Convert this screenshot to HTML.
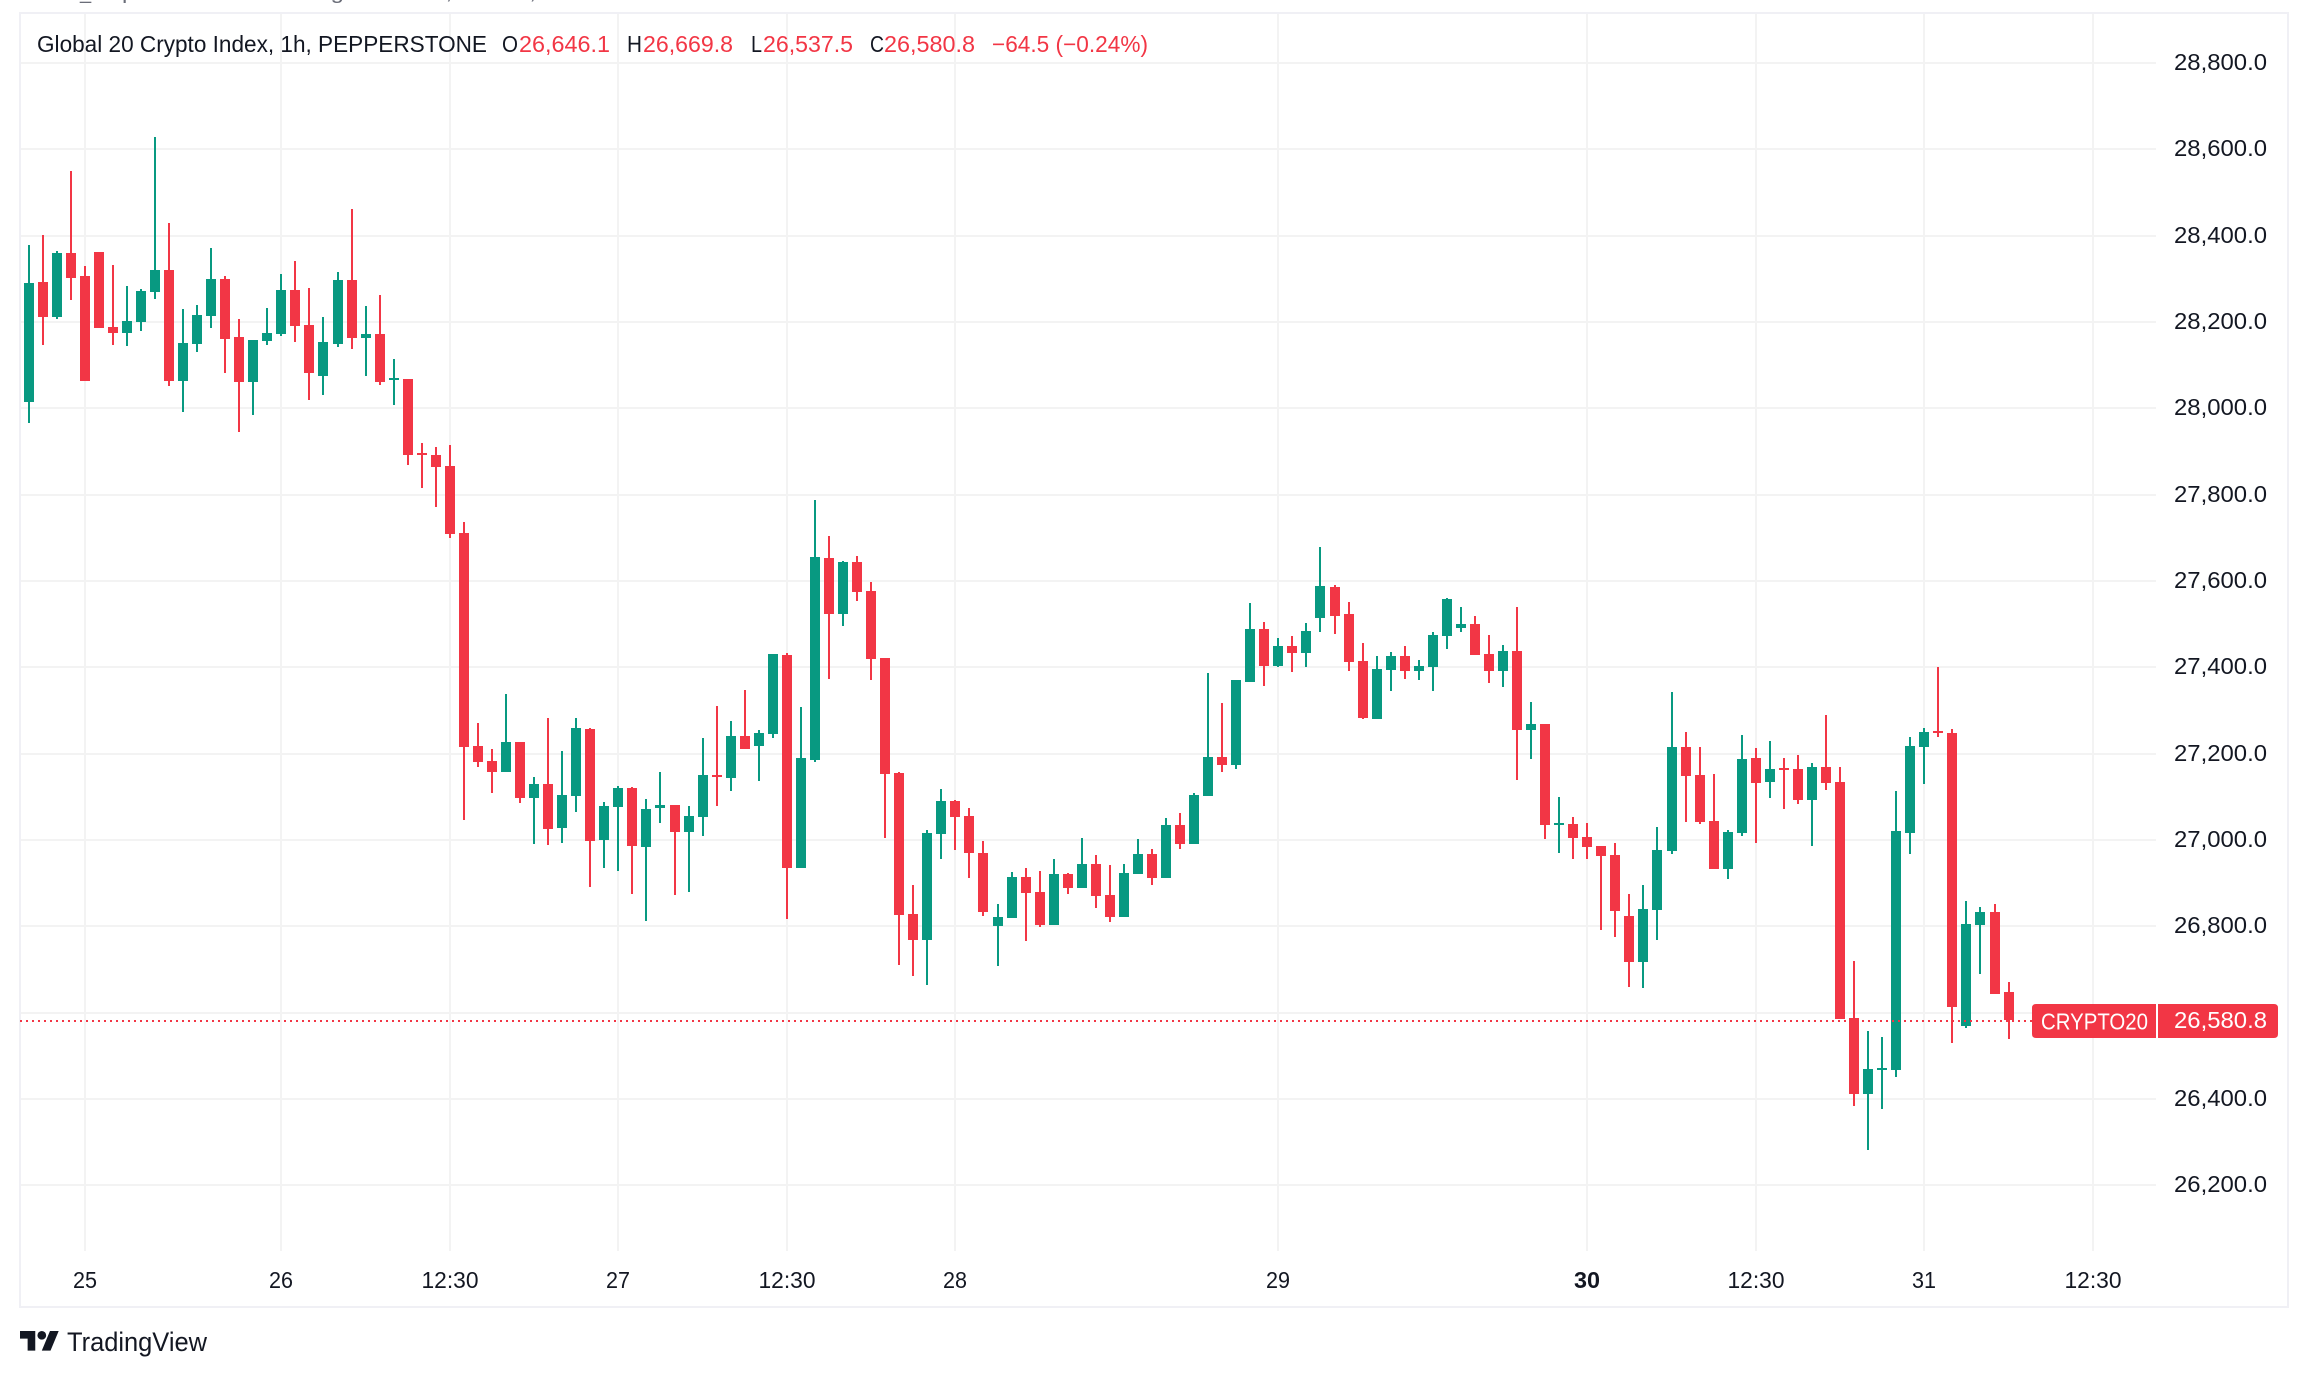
<!DOCTYPE html>
<html lang="en">
<head>
<meta charset="utf-8">
<title>Global 20 Crypto Index, 1h, PEPPERSTONE</title>
<style>
html,body{margin:0;padding:0;background:#fff;width:2308px;height:1377px;overflow:hidden}
svg{display:block;font-family:"Liberation Sans",sans-serif}
</style>
</head>
<body>
<svg id="chart" xmlns="http://www.w3.org/2000/svg" width="2308" height="1377" viewBox="0 0 2308 1377">
  <rect x="0" y="0" width="2308" height="1377" fill="#ffffff"/>
  <text x="80" y="-1" font-size="20" fill="#6a6d78">_</text>
  <text x="122" y="-1" font-size="20" fill="#6a6d78" textLength="414" lengthAdjust="spacingAndGlyphs">published on TradingView.com, Oct 31,</text>
  <g id="grid"></g>
  <rect x="19" y="12" width="2270" height="2" fill="#f0f0f5"/>
  <rect x="19" y="1306" width="2270" height="2" fill="#f0f0f5"/>
  <rect x="19" y="12" width="2" height="1296" fill="#f0f0f5"/>
  <rect x="2287" y="12" width="2" height="1296" fill="#f0f0f5"/>
  <g id="candles"></g>
  <line id="priceLine" x1="20" x2="2032" stroke="#f23645" stroke-width="2" stroke-dasharray="2 4"/>
  <g id="priceAxis" font-size="23.5" fill="#131722"></g>
  <g id="timeAxis" font-size="23.5" fill="#131722"></g>
  <g font-size="23" fill="#131722">
    <text x="37" y="52" textLength="450" lengthAdjust="spacingAndGlyphs">Global 20 Crypto Index, 1h, PEPPERSTONE</text>
    <text x="502" y="52" textLength="16" lengthAdjust="spacingAndGlyphs">O</text>
    <text x="519" y="52" fill="#f23645" textLength="91" lengthAdjust="spacingAndGlyphs">26,646.1</text>
    <text x="627" y="52" textLength="15" lengthAdjust="spacingAndGlyphs">H</text>
    <text x="643" y="52" fill="#f23645" textLength="90" lengthAdjust="spacingAndGlyphs">26,669.8</text>
    <text x="751" y="52" textLength="11" lengthAdjust="spacingAndGlyphs">L</text>
    <text x="763" y="52" fill="#f23645" textLength="90" lengthAdjust="spacingAndGlyphs">26,537.5</text>
    <text x="870" y="52" textLength="14" lengthAdjust="spacingAndGlyphs">C</text>
    <text x="884" y="52" fill="#f23645" textLength="91" lengthAdjust="spacingAndGlyphs">26,580.8</text>
    <text x="992" y="52" fill="#f23645" textLength="156" lengthAdjust="spacingAndGlyphs">−64.5 (−0.24%)</text>
  </g>
  <g id="badge">
    <path id="badgeLeft" fill="#f23645" d=""/>
    <path id="badgeRight" fill="#f23645" d=""/>
    <text id="badgeSymbol" x="2041" font-size="23.5" fill="#ffffff" textLength="107" lengthAdjust="spacingAndGlyphs">CRYPTO20</text>
    <text id="badgePrice" x="2174" font-size="23.5" fill="#ffffff" textLength="93" lengthAdjust="spacingAndGlyphs"></text>
  </g>
  <g>
    <g transform="translate(20 1326.6) scale(1.09)" fill="#131722">
      <path d="M14 22H7V11H0V4h14v18ZM28 22h-8l7.5-18h8L28 22Z"/>
      <circle cx="20" cy="8" r="4"/>
    </g>
    <text x="67" y="1351" font-size="27" fill="#131722" textLength="140" lengthAdjust="spacingAndGlyphs">TradingView</text>
  </g>
</svg>
<script>
const opens = [28013,28291,28210,28358,28305,28361,28187,28173,28198,28268,28319,28062,28148,28212,28298,28164,28060,28154,28171,28273,
28192,28073,28148,28296,28161,28171,28064,28066,27896,27890,27865,27710,27216,27182,27156,27226,27096,27128,27026,27100,
27256,26999,27075,27119,26982,27073,27080,27017,27052,27149,27142,27239,27216,27244,27427,26934,27184,27652,27522,27643,
27575,27420,27154,26827,26767,27012,27089,27054,26968,26799,26818,26913,26878,26802,26920,26887,26943,26871,26820,26920,
26966,26911,27033,26989,27101,27191,27172,27365,27487,27402,27448,27432,27513,27585,27522,27413,27279,27392,27425,27390,
27399,27471,27490,27499,27429,27390,27436,27253,27267,27033,27036,27006,26985,26964,26823,26716,26836,26973,27214,27149,
27043,26931,27015,27189,27133,27165,27163,27091,27168,27133,26586,26410,26466,26466,27015,27214,27251,27246,26568,26802,
26832,26646.1];
const highs = [28377,28400,28363,28548,28328,28361,28331,28282,28275,28627,28428,28229,28238,28370,28305,28205,28157,28231,28310,28340,
28277,28210,28314,28460,28236,28261,28113,28066,27918,27909,27914,27735,27270,27209,27337,27226,27144,27281,27205,27281,
27258,27087,27124,27121,27094,27156,27080,27077,27235,27309,27274,27346,27253,27429,27432,27307,27786,27703,27645,27656,
27596,27420,27156,26894,27022,27117,27091,27073,26996,26850,26924,26934,26927,26955,26922,27003,26964,26941,26943,27001,
26978,27050,27061,27107,27385,27316,27369,27548,27504,27467,27471,27501,27677,27589,27550,27455,27425,27434,27448,27416,
27480,27559,27538,27518,27473,27450,27538,27318,27267,27098,27052,27038,26985,26992,26874,26894,27029,27341,27249,27214,
27152,27022,27242,27212,27228,27189,27196,27177,27288,27168,26718,26556,26542,27112,27237,27258,27399,27256,26857,26843,
26850,26669.8];
const lows = [27965,28145,28205,28249,28062,28185,28145,28143,28178,28252,28050,27990,28129,28185,28080,27944,27983,28145,28166,28152,
28018,28029,28141,28136,28073,28053,28006,27867,27814,27770,27698,27045,27168,27107,27156,27084,26989,26987,26992,27063,
26890,26934,26927,26873,26811,27038,26871,26878,27008,27077,27112,27209,27135,27235,26816,26934,27179,27372,27494,27552,
27369,27003,26709,26684,26663,26955,26975,26911,26823,26707,26818,26765,26797,26802,26873,26887,26841,26809,26820,26920,
26894,26911,26978,26989,27101,27156,27163,27365,27355,27399,27388,27399,27480,27476,27390,27279,27279,27344,27372,27369,
27344,27441,27480,27427,27362,27353,27138,27186,27001,26968,26955,26955,26790,26774,26658,26656,26767,26966,27040,27036,
26931,26908,27008,26992,27096,27070,27082,26985,27114,26584,26382,26280,26375,26449,26966,27128,27237,26528,26563,26688,
26642,26537.5];
const closes = [28289,28210,28358,28300,28062,28185,28173,28201,28270,28319,28062,28150,28215,28298,28159,28060,28157,28173,28273,28189,
28080,28152,28296,28161,28171,28060,28069,27890,27891,27863,27707,27214,27179,27156,27226,27096,27128,27024,27103,27258,
26996,27077,27119,26985,27070,27080,27017,27054,27149,27144,27239,27209,27246,27429,26934,27188,27654,27522,27643,27573,
27418,27151,26825,26767,27015,27089,27052,26968,26832,26820,26913,26876,26802,26920,26887,26943,26869,26820,26922,26966,
26911,27033,26989,27103,27191,27172,27369,27487,27402,27448,27432,27483,27587,27518,27411,27281,27395,27425,27390,27402,
27473,27557,27499,27427,27390,27436,27253,27267,27033,27038,27003,26982,26962,26834,26716,26839,26975,27214,27147,27040,
26931,27017,27186,27131,27163,27161,27091,27168,27131,26584,26410,26468,26470,27019,27216,27249,27246,26612,26804,26832,
26642,26580.8];
const priceTicks = [28800,28600,28400,28200,28000,27800,27600,27400,27200,27000,26800,26600,26400,26200];
const timeLabels = ["25","26","12:30","27","12:30","28","29","30","12:30","31","12:30"];
const timeBarIndex = [4,18,30,42,54,66,89,111,123,135,147];
const boldTimeLabels = ["30"];

const SVGNS = "http://www.w3.org/2000/svg";
const UP = "#089981", DOWN = "#f23645", GRID = "#f3f3f3";
const paneLeft = 21, paneRight = 2156, paneTop = 14, paneBottom = 1251;
const xOrigin = 28.575, barStep = 14.0424;
const yRefPrice = 28000, yRefPixel = 407.7, pxPerUnit = 0.43167;

function xScale(i){ return Math.round(xOrigin + barStep * i); }
function yScale(p){ return yRefPixel + (yRefPrice - p) * pxPerUnit; }
function fmt(p){ return p.toLocaleString("en-US",{minimumFractionDigits:1,maximumFractionDigits:1}); }
function rect(parent,x,y,w,h,fill){
  const r = document.createElementNS(SVGNS,"rect");
  r.setAttribute("x",x);
  r.setAttribute("y",y);
  r.setAttribute("width",w);
  r.setAttribute("height",h);
  r.setAttribute("fill",fill);
  parent.appendChild(r);
  return r;
}
function label(parent,x,y,str,anchor,len){
  const t = document.createElementNS(SVGNS,"text");
  t.setAttribute("x",x);
  t.setAttribute("y",y);
  t.setAttribute("text-anchor",anchor);
  t.setAttribute("textLength",len);
  t.setAttribute("lengthAdjust","spacingAndGlyphs");
  t.textContent = str;
  parent.appendChild(t);
  return t;
}

const gridG = document.getElementById("grid");
const priceG = document.getElementById("priceAxis");
const timeG = document.getElementById("timeAxis");
const candleG = document.getElementById("candles");

priceTicks.forEach(function(p){
  const y = Math.round(yScale(p) + 0.5);
  const g = rect(gridG,paneLeft,y-1,paneRight-paneLeft,2,GRID);
  
  
  const t = label(priceG,2174,y+7,fmt(p),"start",93);
  
  
});

timeLabels.forEach(function(lbl,k){
  const x = xScale(timeBarIndex[k]);
  const g = rect(gridG,x-1,paneTop,2,paneBottom-paneTop,GRID);
  
  
  const t = label(timeG,x,1288,lbl,"middle",lbl.length>2?57:(boldTimeLabels.indexOf(lbl)>=0?26:24));
  
  
  if(boldTimeLabels.indexOf(lbl)>=0){ t.setAttribute("font-weight","bold"); }
});

opens.forEach(function(o,i){
  const c = closes[i];
  const color = c >= o ? UP : DOWN;
  const x = xScale(i);
  const yH = Math.round(yScale(highs[i]));
  const yL = Math.round(yScale(lows[i]));
  let top = Math.round(yScale(Math.max(o,c)));
  let bot = Math.round(yScale(Math.min(o,c)));
  if(bot - top < 2){ bot = top + 2; }
  const wick = rect(candleG,x-1,yH,2,Math.max(yL-yH,2),color);
  
  
  const body = rect(candleG,x-5,top,10,bot-top,color);
  
  
});

const last = closes[closes.length-1];
const lastY = Math.round(yScale(last) + 0.5);
const priceLine = document.getElementById("priceLine");
priceLine.setAttribute("y1",lastY);
priceLine.setAttribute("y2",lastY);
const bt = lastY-17, bb = lastY+17;
document.getElementById("badgeLeft").setAttribute("d","M2036 "+bt+"H2156V"+bb+"H2036Q2032 "+bb+" 2032 "+(bb-4)+"V"+(bt+4)+"Q2032 "+bt+" 2036 "+bt+"Z");
document.getElementById("badgeRight").setAttribute("d","M2158 "+bt+"H2274Q2278 "+bt+" 2278 "+(bt+4)+"V"+(bb-4)+"Q2278 "+bb+" 2274 "+bb+"H2158Z");
document.getElementById("badgeSymbol").setAttribute("y",lastY+8.5);
const bp = document.getElementById("badgePrice");
bp.setAttribute("y",lastY+7);
bp.textContent = fmt(last);
</script>
</body>
</html>
